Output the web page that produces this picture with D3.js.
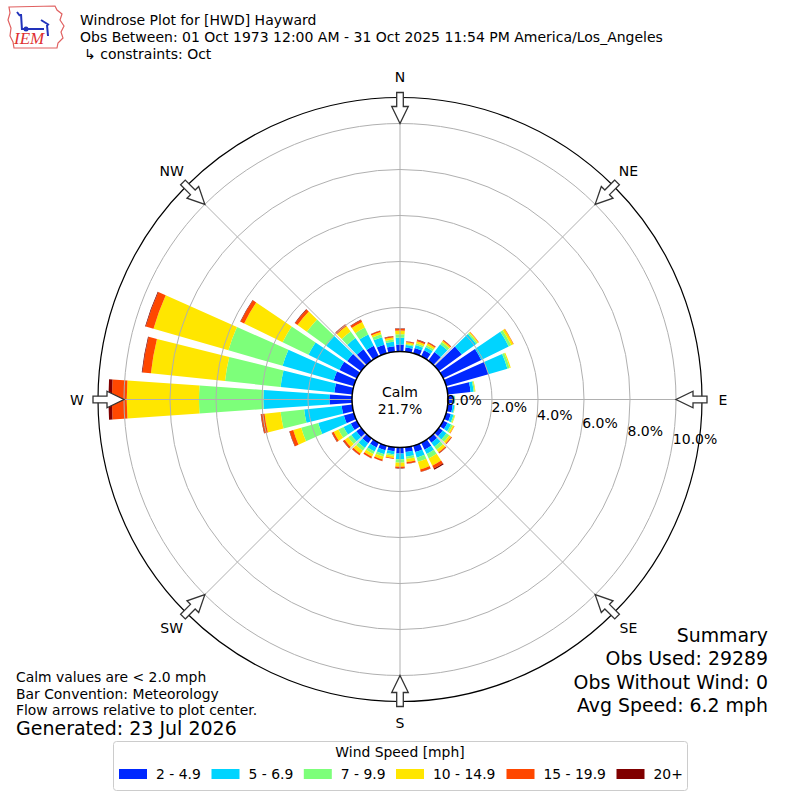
<!DOCTYPE html>
<html><head><meta charset="utf-8">
<script src="https://cdn.jsdelivr.net/npm/d3@7"></script>
<style>
body{margin:0;background:#fff}
svg text{font-family:"DejaVu Sans",sans-serif;fill:#000}
</style>
</head><body>
<svg id="chart" width="800" height="800"></svg>
<script>
// ---------------- DATA ----------------
const directions = [0,10,20,30,40,50,60,70,80,90,100,110,120,130,140,150,160,170,
                    180,190,200,210,220,230,240,250,260,270,280,290,300,310,320,330,340,350];
const speedBins = ["2 - 4.9","5 - 6.9","7 - 9.9","10 - 14.9","15 - 19.9","20+"];
const binColors = ["#0028ff","#00d4ff","#7dff7a","#ffe600","#ff4700","#800000"];
// percent frequency per direction (0..350 by 10) for each speed bin
const pct_2_4   = [0.39,0.27,0.33,0.38,0.55,1.32,1.93,2.00,1.09,0.30,0.30,0.30,0.30,0.30,0.32,0.43,0.38,0.30,
                   0.35,0.26,0.30,0.32,0.35,0.35,0.38,0.54,0.55,1.07,0.87,1.00,0.93,0.84,0.70,0.60,0.48,0.33];
const pct_5_6   = [0.30,0.11,0.13,0.16,0.42,0.78,1.33,0.86,0.13,0.07,0.08,0.12,0.17,0.20,0.22,0.21,0.25,0.20,
                   0.25,0.14,0.18,0.20,0.25,0.27,0.35,1.16,1.64,2.87,2.35,2.31,1.50,1.13,0.60,0.55,0.34,0.20];
const pct_7_9   = [0.15,0.05,0.08,0.09,0.12,0.07,0.12,0.10,0.05,0.02,0.02,0.05,0.09,0.15,0.16,0.21,0.19,0.10,
                   0.15,0.07,0.10,0.12,0.15,0.17,0.25,0.77,1.03,2.80,2.43,2.45,1.25,1.04,0.35,0.33,0.13,0.09];
const pct_10_14 = [0.16,0.07,0.09,0.09,0.07,0.05,0.10,0.05,0.03,0.01,0.01,0.03,0.06,0.10,0.14,0.35,0.35,0.13,
                   0.17,0.09,0.13,0.13,0.17,0.18,0.23,0.36,0.70,3.14,3.24,3.39,1.86,0.50,0.30,0.27,0.10,0.09];
const pct_15_19 = [0.07,0.04,0.06,0.05,0.04,0.02,0.02,0.00,0.00,0.00,0.00,0.00,0.02,0.04,0.05,0.14,0.10,0.07,
                   0.06,0.04,0.07,0.07,0.07,0.08,0.08,0.16,0.15,0.65,0.37,0.35,0.17,0.13,0.08,0.10,0.06,0.05];
const pct_20p   = [0.02,0.01,0.02,0.01,0.01,0.00,0.00,0.00,0.00,0.00,0.00,0.00,0.00,0.01,0.01,0.06,0.01,0.01,
                   0.02,0.00,0.01,0.01,0.01,0.02,0.02,0.02,0.02,0.15,0.03,0.03,0.02,0.02,0.02,0.02,0.01,0.02];
const calmPct = 21.7;
const ringTicks = [0,2,4,6,8,10];
const compassNames = ["N","NE","E","SE","S","SW","W","NW"];
const compassAngles = [0,45,90,135,180,225,270,315];
const titleLines = ["Windrose Plot for [HWD] Hayward",
                    "Obs Between: 01 Oct 1973 12:00 AM - 31 Oct 2025 11:54 PM America/Los_Angeles",
                    "\u21B3 constraints: Oct"];
const noteLines = ["Calm values are < 2.0 mph","Bar Convention: Meteorology","Flow arrows relative to plot center."];
const generatedText = "Generated: 23 Jul 2026";
const summaryLines = ["Summary","Obs Used: 29289","Obs Without Wind: 0","Avg Speed: 6.2 mph"];
const legendTitle = "Wind Speed [mph]";

// ---------------- CHART ----------------
const svg = d3.select("#chart");
const cx = 400, cy = 399.5;
const R = 302;
const r = d3.scaleLinear().domain([0, 11.13]).range([46, R]);
const rad = d => d * Math.PI / 180;
const seriesArrays = [pct_2_4,pct_5_6,pct_7_9,pct_10_14,pct_15_19,pct_20p];
const keys = speedBins;
const rows = directions.map((d,i) => {
  const o = {dir: d};
  keys.forEach((k,j) => o[k] = seriesArrays[j][i]);
  return o;
});
const stacked = d3.stack().keys(keys)(rows);

const g = svg.append("g").attr("transform", `translate(${cx},${cy})`);

// bars
const arc = d3.arc();
stacked.forEach((layer, j) => {
  g.append("g").selectAll("path").data(layer).join("path")
    .attr("d", d => arc({innerRadius: r(d[0]), outerRadius: r(d[1]),
                         startAngle: rad(d.data.dir - 4), endAngle: rad(d.data.dir + 4)}))
    .attr("fill", binColors[j]);
});

// grid rings & spokes (drawn over bars, as in reference)
const grid = g.append("g").attr("stroke", "#b0b0b0").attr("fill", "none").attr("stroke-width", 1);
grid.selectAll("circle").data(ringTicks.filter(t => t > 0)).join("circle").attr("r", d => r(d));
grid.selectAll("line").data(compassAngles).join("line")
  .attr("x1", d => 48 * Math.sin(rad(d))).attr("y1", d => -48 * Math.cos(rad(d)))
  .attr("x2", d => R * Math.sin(rad(d))).attr("y2", d => -R * Math.cos(rad(d)));

// calm circle
g.append("circle").attr("r", 48).attr("fill", "#fff").attr("stroke", "#000").attr("stroke-width", 1.5);
g.append("text").attr("x", 0).attr("y", -8).attr("text-anchor", "middle").attr("dominant-baseline", "central")
  .style("font-size", "14px").text("Calm");
g.append("text").attr("x", 0).attr("y", 9).attr("text-anchor", "middle").attr("dominant-baseline", "central")
  .style("font-size", "14px").text(calmPct.toFixed(1) + "%");

// outer frame
g.append("circle").attr("r", R).attr("fill", "none").attr("stroke", "#000").attr("stroke-width", 1.2);

// ring labels
const la = rad(10);
g.selectAll("text.rl").data(ringTicks).join("text").attr("class", "rl")
  .attr("x", d => r(d) * Math.cos(la) + 1)
  .attr("y", d => r(d) * Math.sin(la) - 8)
  .attr("dominant-baseline", "central")
  .style("font-size", "14px")
  .text(d => d.toFixed(1) + "%");

// arrows
const arrowPts = [[307,-3.3],[293,-3.3],[293,-8.3],[276,0],[293,8.3],[293,3.3],[307,3.3]];
g.selectAll("path.arrow").data(compassAngles).join("path").attr("class", "arrow")
  .attr("d", a => {
    const s = Math.sin(rad(a)), c = Math.cos(rad(a));
    return "M" + arrowPts.map(([p,w]) => [p*s + w*c, -p*c + w*s].map(v => v.toFixed(2)).join(",")).join("L") + "Z";
  })
  .attr("fill", "#fff").attr("stroke", "#333").attr("stroke-width", 1.3);

// compass labels
g.selectAll("text.cl").data(compassAngles).join("text").attr("class", "cl")
  .attr("x", a => 323 * Math.sin(rad(a)))
  .attr("y", a => -323 * Math.cos(rad(a)))
  .attr("text-anchor", "middle").attr("dominant-baseline", "central")
  .style("font-size", "14px")
  .text((a,i) => compassNames[i]);

// ---------------- HEADER ----------------
const logo = svg.append("g");
logo.append("path")
  .attr("d", "M9,7 L55,6 L57,10 L62,14 L60,20 L64,26 L61,32 L63,38 L58,43 L57,48 L14,48 L13,42 L10,36 L11,28 L8,20 L10,13 Z")
  .attr("fill", "none").attr("stroke", "#e06060").attr("stroke-width", 1.2);
logo.append("path").attr("d", "M21,14 L22,30 M22,29 L44,29 M41,20 L49,25 M47,25 L48,36 M17,12 L20,16")
  .attr("stroke", "#2233bb").attr("stroke-width", 2).attr("fill", "none");
logo.append("circle").attr("cx", 26).attr("cy", 29).attr("r", 2.5).attr("fill", "#2233bb");
logo.append("text").attr("x", 14).attr("y", 44)
  .style("font-family", "'Liberation Serif',serif").style("font-style", "italic")
  .style("font-size", "17px").style("fill", "#e03030").text("IEM");

svg.selectAll("text.title").data(titleLines).join("text").attr("class", "title")
  .attr("x", (d,i) => i === 2 ? 84 : 80)
  .attr("y", (d,i) => 25 + i * 17)
  .style("font-size", "14px")
  .text(d => d);

// ---------------- NOTES ----------------
svg.selectAll("text.note").data(noteLines).join("text").attr("class", "note")
  .attr("x", 16).attr("y", (d,i) => 682 + i * 16.5)
  .style("font-size", "13.9px").text(d => d);
svg.append("text").attr("x", 16).attr("y", 735).style("font-size", "19px").text(generatedText);

svg.selectAll("text.sum").data(summaryLines).join("text").attr("class", "sum")
  .attr("x", 768).attr("y", (d,i) => 641.5 + i * 23.5).attr("text-anchor", "end")
  .style("font-size", "18.9px").text(d => d);

// ---------------- LEGEND ----------------
const leg = svg.append("g");
leg.append("rect").attr("x", 113.5).attr("y", 741.5).attr("width", 574).attr("height", 49).attr("rx", 3)
  .attr("fill", "#fff").attr("stroke", "#cccccc").attr("stroke-width", 1);
leg.append("text").attr("x", 400).attr("y", 752).attr("text-anchor", "middle").attr("dominant-baseline", "central")
  .style("font-size", "13.9px").text(legendTitle);
const legX = [119, 211.5, 303.8, 396, 506.5, 616.5];
const item = leg.selectAll("g.item").data(speedBins).join("g").attr("class", "item")
  .attr("transform", (d,i) => `translate(${legX[i]},0)`);
item.append("rect").attr("x", 0).attr("y", 769).attr("width", 28).attr("height", 10)
  .attr("fill", (d,i) => binColors[i]);
item.append("text").attr("x", 37).attr("y", 774).attr("dominant-baseline", "central")
  .style("font-size", "13.9px").text(d => d);
</script>
</body></html>
